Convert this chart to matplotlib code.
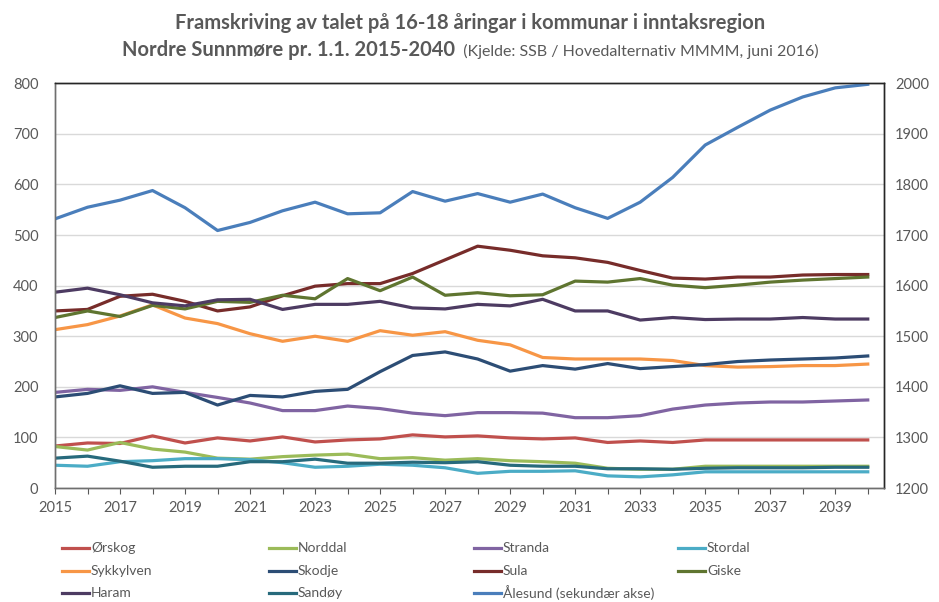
import matplotlib.pyplot as plt
from matplotlib.lines import Line2D
import numpy as np

plt.rcParams["font.family"] = ["Lato", "DejaVu Sans"]

YEARS = list(range(2015, 2041))

# Values (number of 16-18 year olds)
ORSKOG = [83, 89, 88, 103, 89, 99, 93, 101, 91, 95, 97, 105, 101, 103, 99, 97,
          99, 90, 93, 90, 95, 95, 95, 95, 95, 95]
NORDDAL = [82, 75, 90, 77, 71, 59, 57, 62, 65, 67, 58, 60, 55, 58, 54, 52,
           49, 39, 37, 37, 43, 43, 43, 43, 43, 43]
STRANDA = [189, 195, 193, 200, 189, 179, 168, 153, 153, 162, 157, 148, 143, 149,
           149, 148, 139, 139, 143, 156, 164, 168, 170, 170, 172, 174]
STORDAL = [45, 43, 52, 54, 58, 58, 56, 50, 41, 43, 47, 45, 40, 29, 33, 33,
           34, 24, 22, 26, 32, 32, 32, 32, 32, 32]
SYKKYLVEN = [313, 323, 340, 362, 336, 325, 305, 290, 300, 290, 311, 302, 309, 292,
             283, 258, 255, 255, 255, 252, 242, 239, 240, 242, 242, 245]
SKODJE = [180, 187, 202, 187, 189, 164, 183, 180, 191, 195, 230, 262, 269, 255,
          231, 242, 235, 246, 236, 240, 244, 250, 253, 255, 257, 261]
SULA = [350, 353, 379, 383, 369, 350, 358, 380, 399, 404, 404, 424, 451, 478,
        470, 459, 455, 446, 430, 415, 413, 417, 417, 421, 422, 422]
GISKE = [337, 350, 339, 361, 354, 369, 367, 381, 374, 414, 390, 417, 381, 386,
         380, 382, 409, 407, 414, 401, 396, 401, 407, 411, 414, 417]
HARAM = [387, 395, 382, 366, 360, 372, 373, 353, 363, 363, 369, 356, 354, 363,
         360, 373, 350, 350, 332, 337, 333, 334, 334, 337, 334, 334]
SANDOY = [59, 63, 53, 41, 43, 43, 52, 52, 57, 49, 49, 51, 50, 52, 45, 43,
          43, 38, 38, 37, 39, 40, 40, 40, 41, 41]
# Ålesund is plotted on the secondary axis
ALESUND = [1732, 1755, 1769, 1788, 1754, 1709, 1725, 1748, 1765, 1742, 1744, 1786,
           1767, 1782, 1765, 1781, 1754, 1733, 1765, 1814, 1878, 1913, 1947, 1973,
           1991, 1998]

NAMES = ["Ørskog", "Norddal", "Stranda", "Stordal", "Sykkylven", "Skodje",
         "Sula", "Giske", "Haram", "Sandøy"]
SERIES = [ORSKOG, NORDDAL, STRANDA, STORDAL, SYKKYLVEN, SKODJE,
          SULA, GISKE, HARAM, SANDOY]
COLORS = ["#C0504D", "#9BBB59", "#8064A2", "#4BACC6", "#F79646", "#2C4D75",
          "#772C2A", "#5F7530", "#4D3B62", "#276A7C"]
ALESUND_NAME = "Ålesund (sekundær akse)"
ALESUND_COLOR = "#4A7EBB"

TXT = "#595959"
W, H = 939, 602

fig = plt.figure(figsize=(W / 100, H / 100), dpi=100)
ax = fig.add_axes([55 / W, 1 - 488 / H, (884 - 55) / W, (488 - 83.3) / H])

for vals, col in zip(SERIES, COLORS):
    ax.plot(YEARS, vals, color=col, lw=2.3, solid_joinstyle="round")

ax2 = ax.twinx()
ax2.plot(YEARS, ALESUND, color=ALESUND_COLOR, lw=2.3, solid_joinstyle="round")

ax.set_xlim(2015, 2040.5)
ax.set_ylim(0, 800)
ax2.set_ylim(1200, 2000)
ax.set_yticks(np.arange(0, 801, 100))
ax2.set_yticks(np.arange(1200, 2001, 100))
ax.set_xticks(YEARS)
ax.set_xticklabels([str(y) if (y - 2015) % 2 == 0 else "" for y in YEARS])

ax.yaxis.grid(True, color="#D9D9D9", lw=1)
ax.set_axisbelow(True)

ax.tick_params(axis="x", direction="out", length=4, width=0.8, color="#595959",
               labelsize=10.5, labelcolor=TXT, pad=5)
ax.tick_params(axis="y", length=0, labelsize=10.5, labelcolor=TXT, pad=12)
ax2.tick_params(axis="y", length=0, labelsize=10.5, labelcolor=TXT, pad=8)

for a in (ax, ax2):
    a.spines["left"].set_color("#6f6f6f")
    a.spines["bottom"].set_color("#6f6f6f")
    a.spines["right"].set_color("#262626")
    a.spines["top"].set_color("#262626")
    for s in a.spines.values():
        s.set_linewidth(1.0)

# Title: two centred lines, the second one in two styles
cx = 470 / W
fig.text(cx, 1 - 29 / H, "Framskriving av talet på 16-18 åringar i kommunar i inntaksregion",
         ha="center", va="baseline", fontsize=14.5, fontweight="bold", color=TXT)
t_bold = fig.text(0, 1 - 56 / H, "Nordre Sunnmøre pr. 1.1. 2015-2040",
                  ha="left", va="baseline", fontsize=14.5, fontweight="bold", color=TXT)
t_src = fig.text(0, 1 - 56 / H, "  (Kjelde: SSB / Hovedalternativ MMMM, juni 2016)",
                 ha="left", va="baseline", fontsize=11.5, color=TXT)
rend = fig.canvas.get_renderer()
wb = t_bold.get_window_extent(rend).width / W
ws = t_src.get_window_extent(rend).width / W
x0 = cx - (wb + ws) / 2
t_bold.set_x(x0)
t_src.set_x(x0 + wb)

# Legend drawn as a 4-column grid
entries = list(zip(NAMES, COLORS)) + [(ALESUND_NAME, ALESUND_COLOR)]
col_x = [62, 269, 474, 678]
row_y = [548, 571, 593]
for i, (name, col) in enumerate(entries):
    r, c = divmod(i, 4)
    lx = col_x[c]
    ly = row_y[r]
    fig.add_artist(Line2D([lx / W, (lx + 27) / W], [1 - ly / H, 1 - ly / H],
                          color=col, lw=2.3, transform=fig.transFigure))
    fig.text((lx + 29) / W, 1 - ly / H, name, ha="left", va="center",
             fontsize=10, color=TXT)

fig.savefig("out.png", dpi=100)
